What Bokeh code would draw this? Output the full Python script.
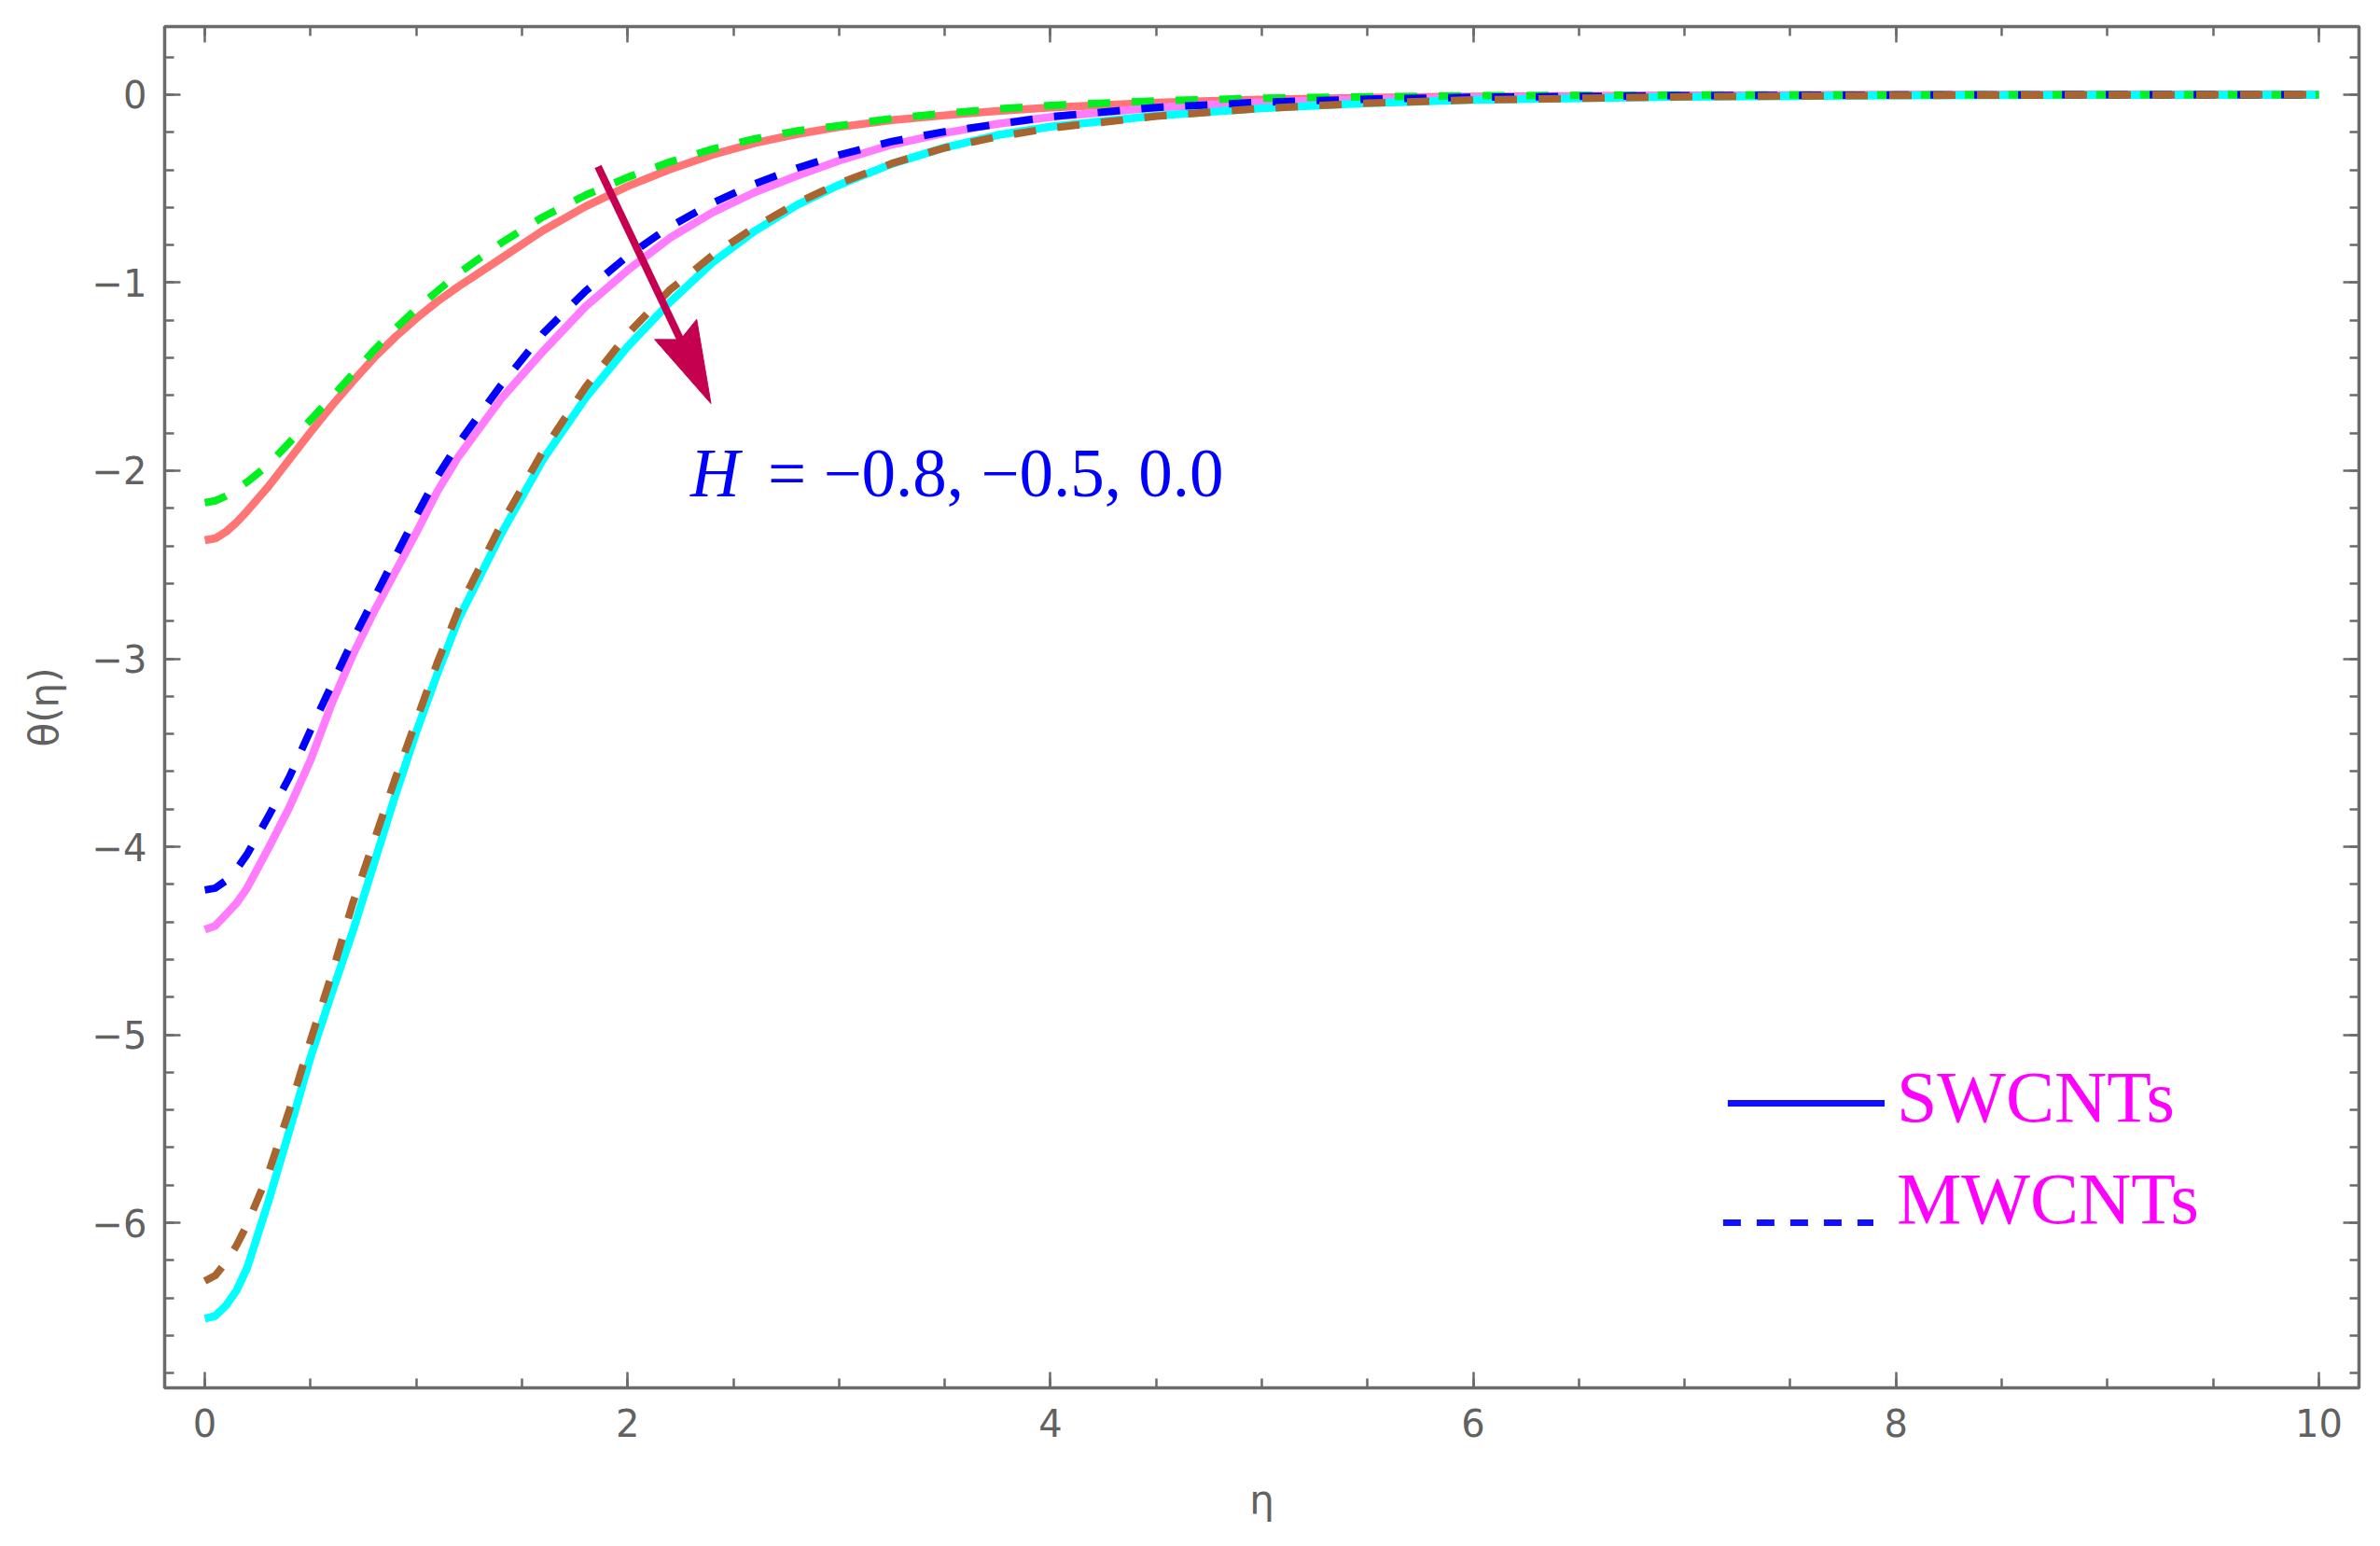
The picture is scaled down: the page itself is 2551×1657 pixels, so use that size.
from bokeh.plotting import figure
from bokeh.models import Range1d, LinearAxis, SingleIntervalTicker, CustomJSTickFormatter
from bokeh.embed import file_html
from bokeh.resources import INLINE
from bokeh.core.properties import value

# ---------------- data ----------------
eta = [0, 0.05, 0.1, 0.15, 0.2, 0.3, 0.4, 0.5, 0.6, 0.7, 0.8, 0.9, 1.0, 1.1, 1.2, 1.4, 1.6, 1.8,
       2.0, 2.2, 2.4, 2.6, 2.8, 3.0, 3.25, 3.5, 3.75, 4.0, 4.5, 5.0, 5.5, 6.0, 7.0, 8.0, 9.0, 10.0]

# SWCNTs (solid)
sw_h_m08 = [-2.37, -2.36, -2.325, -2.275, -2.215, -2.085, -1.94, -1.795, -1.655, -1.525, -1.40, -1.29,
            -1.19, -1.10, -1.02, -0.872, -0.722, -0.595, -0.487, -0.397, -0.32, -0.258, -0.21, -0.172,
            -0.136, -0.11, -0.087, -0.068, -0.042, -0.026, -0.016, -0.01, -0.004, -0.0015, -0.0005, 0]
sw_h_m05 = [-4.44, -4.42, -4.36, -4.30, -4.22, -4.01, -3.79, -3.54, -3.24, -2.98, -2.75, -2.54,
            -2.33, -2.11, -1.925, -1.62, -1.365, -1.128, -0.934, -0.762, -0.627, -0.52, -0.432, -0.351,
            -0.266, -0.204, -0.155, -0.119, -0.068, -0.04, -0.024, -0.014, -0.005, -0.002, -0.0005, 0]
sw_h_00 = [-6.51, -6.495, -6.44, -6.36, -6.24, -5.89, -5.51, -5.12, -4.78, -4.45, -4.09, -3.73,
           -3.39, -3.08, -2.79, -2.34, -1.94, -1.615, -1.34, -1.104, -0.894, -0.726, -0.588, -0.48,
           -0.368, -0.281, -0.215, -0.17, -0.112, -0.072, -0.045, -0.028, -0.011, -0.004, -0.0015, 0]

# MWCNTs (dashed)
mw_h_m08 = [-2.17, -2.16, -2.135, -2.10, -2.06, -1.97, -1.85, -1.73, -1.61, -1.485, -1.36, -1.245,
            -1.14, -1.045, -0.95, -0.79, -0.65, -0.535, -0.44, -0.358, -0.29, -0.235, -0.193, -0.165,
            -0.127, -0.099, -0.076, -0.057, -0.033, -0.019, -0.011, -0.006, -0.002, -0.001, 0, 0]
mw_h_m05 = [-4.23, -4.22, -4.18, -4.12, -4.04, -3.84, -3.63, -3.38, -3.14, -2.90, -2.68, -2.46,
            -2.24, -2.03, -1.854, -1.547, -1.27, -1.046, -0.858, -0.702, -0.577, -0.475, -0.391, -0.321,
            -0.249, -0.197, -0.157, -0.117, -0.068, -0.04, -0.024, -0.014, -0.005, -0.002, -0.0005, 0]
mw_h_00 = [-6.31, -6.28, -6.21, -6.12, -6.01, -5.74, -5.40, -5.03, -4.68, -4.30, -3.97, -3.64,
           -3.33, -3.02, -2.74, -2.29, -1.895, -1.557, -1.273, -1.038, -0.856, -0.705, -0.576, -0.472,
           -0.366, -0.283, -0.224, -0.178, -0.115, -0.073, -0.045, -0.028, -0.011, -0.004, -0.0015, 0]

x_tick_step = 2
y_tick_step = 1
annotation_text = "= \u22120.8, \u22120.5, 0.0"
legend_labels = ["SWCNTs", "MWCNTs"]

# ---------------- styling / layout ----------------
FRAME = "#6b6b6b"
LABEL = "#616161"
X0, X1 = -0.19, 10.19
Y0, Y1 = -6.878, 0.362
W, H = 2535, 1641
BL, BR, BT, BB = 176, 7, 28, 154
FW = W - BL - BR
FH = H - BT - BB
SX = FW / (X1 - X0)   # px per data unit
SY = FH / (Y1 - Y0)

p = figure(width=W, height=H, output_backend="svg", toolbar_location=None,
           x_range=Range1d(X0, X1), y_range=Range1d(Y0, Y1),
           min_border_left=BL, min_border_right=BR, min_border_top=BT, min_border_bottom=BB,
           background_fill_color="white", border_fill_color="white")
p.xgrid.grid_line_color = None
p.ygrid.grid_line_color = None
p.outline_line_color = FRAME
p.outline_line_width = 3.5


def style_axis(ax, labels):
    ax.axis_line_color = None
    ax.major_tick_line_color = FRAME
    ax.minor_tick_line_color = FRAME
    ax.major_tick_line_width = 2.5
    ax.minor_tick_line_width = 2.5
    ax.major_tick_in = 17
    ax.major_tick_out = 0
    ax.minor_tick_in = 10
    ax.minor_tick_out = 0
    if labels:
        ax.major_label_text_font = "DejaVu Sans"
        ax.major_label_text_font_size = "40px"
        ax.major_label_text_color = LABEL
        ax.axis_label_text_font = "DejaVu Sans"
        ax.axis_label_text_font_size = "42px"
        ax.axis_label_text_font_style = "normal"
        ax.axis_label_text_color = LABEL
    else:
        ax.major_label_text_font_size = "0px"
        ax.major_label_text_color = None
        ax.major_label_text_alpha = 0
        ax.major_label_standoff = 0


fmt_code = "return tick < 0 ? '\\u2212' + Math.abs(tick) : String(tick);"

xb = p.xaxis[0]
xb.ticker = SingleIntervalTicker(interval=x_tick_step, num_minor_ticks=4)
xb.formatter = CustomJSTickFormatter(code=fmt_code)
style_axis(xb, True)
xb.major_label_standoff = 22
xb.axis_label = "\u03b7"
xb.axis_label_standoff = 40

yl = p.yaxis[0]
yl.ticker = SingleIntervalTicker(interval=y_tick_step, num_minor_ticks=5)
yl.formatter = CustomJSTickFormatter(code=fmt_code)
style_axis(yl, True)
yl.major_label_standoff = 19
yl.axis_label = "\u03b8(\u03b7)"
yl.axis_label_standoff = 24

xt = LinearAxis(ticker=SingleIntervalTicker(interval=x_tick_step, num_minor_ticks=4))
style_axis(xt, False)
p.add_layout(xt, "above")
yr = LinearAxis(ticker=SingleIntervalTicker(interval=y_tick_step, num_minor_ticks=5))
style_axis(yr, False)
p.add_layout(yr, "right")

# ---------------- curves ----------------
LW = 8.5
DASH = "24 23"
p.line(eta, sw_h_m08, line_color="#ff7575", line_width=LW, line_join="round")
p.line(eta, sw_h_m05, line_color="#ff7cff", line_width=LW, line_join="round")
p.line(eta, sw_h_00, line_color="#00ffff", line_width=LW, line_join="round")
p.line(eta, mw_h_m08, line_color="#00f020", line_width=8, line_dash=DASH, line_join="round")
p.line(eta, mw_h_m05, line_color="#0000ff", line_width=8, line_dash=DASH, line_join="round")
p.line(eta, mw_h_00, line_color="#a86530", line_width=8, line_dash=DASH, line_join="round")

# ---------------- arrow ----------------
ARROW = "#c4004f"
tail = (1.860, -0.382)
tip = (2.394, -1.643)
head_len, head_w, notch = 88.0, 50.0, 12.0
dx = (tip[0] - tail[0]) * SX
dy = (tip[1] - tail[1]) * SY
L = (dx * dx + dy * dy) ** 0.5
ux, uy = dx / L, dy / L
nx, ny = -uy, ux


def to_data(px, py):
    return tip[0] + px / SX, tip[1] + py / SY


b_c = (-head_len * ux, -head_len * uy)
c1 = to_data(b_c[0] + 0.5 * head_w * nx, b_c[1] + 0.5 * head_w * ny)
c2 = to_data(b_c[0] - 0.5 * head_w * nx, b_c[1] - 0.5 * head_w * ny)
nt = to_data(-(head_len - notch) * ux, -(head_len - notch) * uy)
p.line([tail[0], nt[0]], [tail[1], nt[1]], line_color=ARROW, line_width=8)
p.patch([tip[0], c1[0], nt[0], c2[0]], [tip[1], c1[1], nt[1], c2[1]],
        fill_color=ARROW, line_color=ARROW, line_width=1)

# ---------------- annotation text ----------------
ann_x, ann_y = 2.297, -2.015
p.text(x=[ann_x], y=[ann_y], text=["H"], text_font=value("Liberation Serif"),
       text_font_style="italic", text_font_size="73px", text_color="#0000ff",
       text_baseline="alphabetic", text_align="left")
p.text(x=[ann_x], y=[ann_y], text=[annotation_text], x_offset=83,
       text_font=value("Liberation Serif"), text_font_size="73px", text_color="#0000ff",
       text_baseline="alphabetic", text_align="left")

# ---------------- custom legend ----------------
leg_x = 8.003
leg_y = [-5.33, -5.871]
p.line([7.204, 7.946], [-5.365, -5.365], line_color="#1010ff", line_width=7)
p.line([7.182, 7.893], [-6.0, -6.0], line_color="#1010ff", line_width=7, line_dash="19 17")
p.text(x=[leg_x, leg_x], y=leg_y, text=legend_labels, text_font=value("Liberation Serif"),
       text_font_size="78px", text_color="#ff00ff", text_baseline="alphabetic", text_align="left")

open("out.html", "w").write(file_html(p, INLINE))
